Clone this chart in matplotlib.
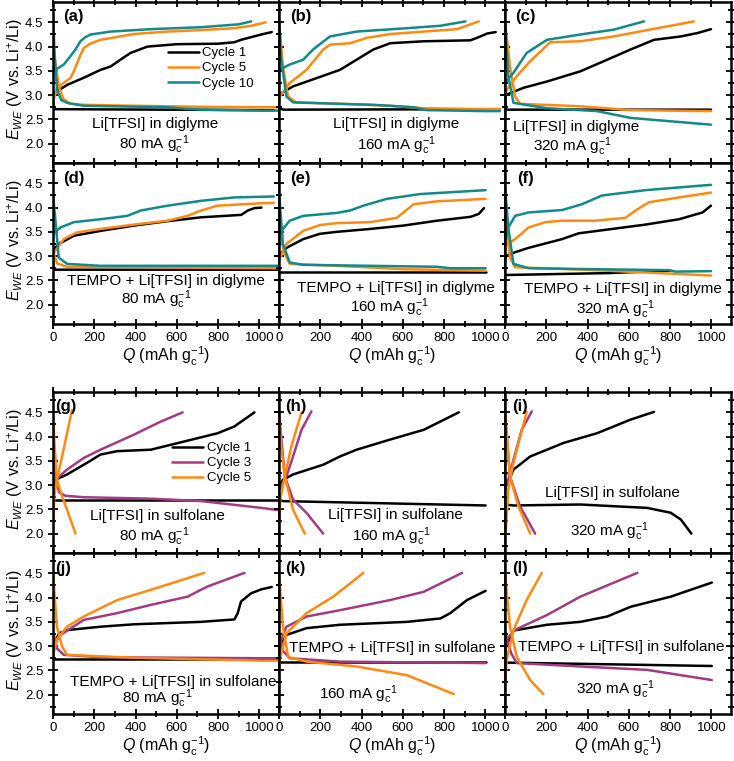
import matplotlib
matplotlib.use("Agg")
import matplotlib.pyplot as plt
from matplotlib.ticker import MultipleLocator

plt.rcParams['font.family'] = ['Liberation Sans', 'DejaVu Sans']
plt.rcParams['mathtext.fontset'] = 'custom'
plt.rcParams['mathtext.rm'] = 'Liberation Sans'
plt.rcParams['mathtext.it'] = 'Liberation Sans:italic'
plt.rcParams['mathtext.bf'] = 'Liberation Sans:bold'

# ---- data: charge (cq, cv) and discharge (dq, dv) curves, Q in mAh/g, E in V ----
# diglyme panels (cycles 1, 5, 10)
panel_a = {
    "Cycle 1": dict(cq=[0, 5, 68, 150, 230, 279, 330, 376, 457, 600, 800, 879, 911, 1009, 1060],
                    cv=[2.95, 3.04, 3.21, 3.36, 3.52, 3.59, 3.74, 3.87, 4.00, 4.05, 4.06, 4.09, 4.14, 4.25, 4.30],
                    dq=[0, 3, 1070], dv=[2.95, 2.71, 2.69]),
    "Cycle 5": dict(cq=[0, 19, 84, 100, 117, 133, 149, 180, 230, 392, 555, 717, 879, 960, 1030],
                    cv=[2.85, 3.15, 3.35, 3.48, 3.66, 3.83, 3.97, 4.06, 4.14, 4.26, 4.31, 4.34, 4.38, 4.43, 4.50],
                    dq=[0, 15, 30, 50, 84, 150, 392, 700, 1009, 1090],
                    dv=[4.10, 3.55, 3.15, 2.92, 2.82, 2.80, 2.78, 2.76, 2.75, 2.75]),
    "Cycle 10": dict(cq=[0, 52, 84, 110, 133, 155, 182, 279, 474, 717, 900, 960],
                     cv=[3.49, 3.63, 3.80, 3.95, 4.11, 4.19, 4.25, 4.31, 4.36, 4.40, 4.46, 4.52],
                     dq=[0, 8, 20, 40, 68, 149, 555, 640, 717, 1009, 1090],
                     dv=[4.65, 3.80, 3.10, 2.90, 2.84, 2.78, 2.75, 2.72, 2.70, 2.68, 2.68]),
}
panel_b = {
    "Cycle 1": dict(cq=[0, 11, 68, 182, 295, 376, 457, 539, 701, 928, 976, 1009, 1050],
                    cv=[2.95, 3.04, 3.18, 3.35, 3.52, 3.73, 3.94, 4.07, 4.11, 4.13, 4.21, 4.27, 4.30],
                    dq=[0, 19, 1070], dv=[2.75, 2.70, 2.71]),
    "Cycle 5": dict(cq=[0, 3, 52, 133, 214, 247, 344, 425, 539, 701, 863, 968],
                    cv=[2.85, 2.97, 3.25, 3.52, 3.94, 4.04, 4.07, 4.18, 4.26, 4.31, 4.36, 4.52],
                    dq=[0, 19, 44, 84, 295, 539, 701, 1000, 1070],
                    dv=[4.52, 3.59, 2.97, 2.85, 2.82, 2.78, 2.73, 2.71, 2.71]),
    "Cycle 10": dict(cq=[0, 52, 117, 165, 247, 376, 620, 782, 903],
                     cv=[3.52, 3.63, 3.73, 3.94, 4.21, 4.31, 4.38, 4.43, 4.52],
                     dq=[0, 11, 36, 68, 457, 652, 717, 1000, 1070],
                     dv=[4.52, 3.73, 2.97, 2.85, 2.80, 2.75, 2.69, 2.67, 2.67]),
}
panel_c = {
    "Cycle 1": dict(cq=[0, 8, 89, 203, 365, 495, 608, 722, 852, 933, 998],
                    cv=[2.95, 3.01, 3.15, 3.28, 3.49, 3.73, 3.94, 4.14, 4.21, 4.28, 4.36],
                    dq=[0, 5, 998], dv=[3.0, 2.70, 2.70]),
    "Cycle 5": dict(cq=[0, 8, 57, 122, 219, 365, 527, 689, 916],
                    cv=[2.95, 3.11, 3.39, 3.70, 4.09, 4.11, 4.21, 4.34, 4.52],
                    dq=[0, 24, 49, 73, 365, 608, 998],
                    dv=[4.52, 3.59, 2.97, 2.82, 2.77, 2.69, 2.67]),
    "Cycle 10": dict(cq=[0, 41, 105, 203, 365, 527, 673],
                     cv=[3.25, 3.46, 3.87, 4.14, 4.25, 4.35, 4.52],
                     dq=[0, 16, 41, 203, 446, 608, 998],
                     dv=[4.52, 3.39, 2.84, 2.73, 2.67, 2.53, 2.39]),
}
panel_d = {
    "Cycle 1": dict(cq=[0, 28, 101, 230, 392, 555, 717, 912, 944, 976, 1010],
                    cv=[3.11, 3.25, 3.42, 3.52, 3.63, 3.72, 3.80, 3.85, 3.94, 3.99, 4.00],
                    dq=[0, 5, 1090], dv=[2.9, 2.72, 2.72]),
    "Cycle 5": dict(cq=[0, 52, 117, 230, 392, 555, 652, 717, 798, 1009, 1070],
                    cv=[3.04, 3.35, 3.49, 3.56, 3.65, 3.73, 3.83, 3.94, 4.04, 4.09, 4.10],
                    dq=[0, 20, 68, 1090], dv=[3.1, 2.85, 2.78, 2.75]),
    "Cycle 10": dict(cq=[0, 36, 101, 230, 360, 425, 555, 717, 879, 1070],
                     cv=[3.46, 3.59, 3.70, 3.76, 3.83, 3.94, 4.04, 4.14, 4.21, 4.23],
                     dq=[0, 28, 68, 230, 1090], dv=[4.28, 2.97, 2.84, 2.80, 2.80]),
}
panel_e = {
    "Cycle 1": dict(cq=[0, 36, 117, 198, 279, 441, 603, 766, 928, 968, 993],
                    cv=[3.01, 3.17, 3.35, 3.46, 3.50, 3.56, 3.63, 3.73, 3.81, 3.87, 3.99],
                    dq=[0, 1001], dv=[2.67, 2.67]),
    "Cycle 5": dict(cq=[0, 36, 117, 198, 279, 441, 571, 603, 652, 766, 1001],
                    cv=[2.91, 3.25, 3.52, 3.64, 3.68, 3.70, 3.79, 3.90, 4.07, 4.13, 4.18],
                    dq=[0, 28, 52, 279, 603, 1001], dv=[3.5, 3.04, 2.84, 2.80, 2.73, 2.70]),
    "Cycle 10": dict(cq=[0, 52, 117, 279, 344, 409, 522, 684, 1001],
                     cv=[3.46, 3.73, 3.83, 3.89, 3.94, 4.04, 4.18, 4.28, 4.36],
                     dq=[0, 19, 52, 117, 441, 766, 830, 1001],
                     dv=[4.31, 3.25, 2.87, 2.82, 2.80, 2.78, 2.75, 2.75]),
}
panel_f = {
    "Cycle 1": dict(cq=[0, 8, 49, 114, 276, 357, 519, 681, 843, 957, 998],
                    cv=[2.95, 3.01, 3.08, 3.17, 3.35, 3.47, 3.56, 3.65, 3.76, 3.90, 4.04],
                    dq=[0, 500, 800], dv=[2.61, 2.65, 2.70]),
    "Cycle 5": dict(cq=[0, 49, 114, 195, 276, 438, 584, 633, 697, 843, 998],
                    cv=[3.22, 3.35, 3.59, 3.70, 3.73, 3.73, 3.79, 3.94, 4.11, 4.21, 4.31],
                    dq=[0, 24, 49, 438, 998], dv=[3.94, 2.97, 2.77, 2.71, 2.60]),
    "Cycle 10": dict(cq=[0, 16, 49, 114, 276, 373, 470, 681, 998],
                     cv=[3.30, 3.59, 3.83, 3.90, 3.95, 4.07, 4.25, 4.36, 4.47],
                     dq=[0, 16, 41, 114, 438, 795, 827, 998],
                     dv=[4.42, 3.59, 2.84, 2.75, 2.73, 2.71, 2.68, 2.69]),
}
# sulfolane panels (cycles 1, 3, 5)
panel_g = {
    "Cycle 1": dict(cq=[0, 11, 68, 165, 230, 311, 474, 636, 798, 879, 976],
                    cv=[3.0, 3.11, 3.22, 3.46, 3.63, 3.70, 3.73, 3.90, 4.07, 4.21, 4.50],
                    dq=[0, 1100], dv=[2.69, 2.69]),
    "Cycle 3": dict(cq=[0, 11, 68, 149, 230, 392, 522, 628],
                    cv=[3.0, 3.11, 3.32, 3.56, 3.73, 4.04, 4.31, 4.50],
                    dq=[0, 15, 30, 60, 150, 475, 720, 1009, 1100],
                    dv=[3.6, 3.1, 2.85, 2.78, 2.75, 2.72, 2.67, 2.53, 2.48]),
    "Cycle 5": dict(cq=[0, 6, 19, 44, 68, 92], cv=[1.94, 2.77, 3.11, 3.59, 4.07, 4.55],
                    dq=[0, 8, 19, 44, 68, 109], dv=[4.5, 3.80, 3.11, 2.77, 2.49, 2.0]),
}
panel_h = {
    "Cycle 1": dict(cq=[0, 19, 68, 214, 295, 376, 539, 701, 871],
                    cv=[2.97, 3.11, 3.22, 3.42, 3.59, 3.73, 3.94, 4.14, 4.50],
                    dq=[0, 19, 457, 1001], dv=[2.70, 2.67, 2.63, 2.58]),
    "Cycle 3": dict(cq=[0, 36, 68, 109, 157], cv=[2.9, 3.18, 3.59, 4.14, 4.52],
                    dq=[0, 28, 68, 133, 214], dv=[4.5, 3.18, 2.70, 2.43, 2.0]),
    "Cycle 5": dict(cq=[0, 6, 28, 60, 109], cv=[2.01, 2.70, 3.18, 3.80, 4.50],
                    dq=[0, 11, 28, 68, 125], dv=[4.5, 3.80, 3.18, 2.49, 2.0]),
}
panel_i = {
    "Cycle 1": dict(cq=[0, 24, 41, 122, 284, 365, 446, 608, 722],
                    cv=[3.0, 3.15, 3.32, 3.59, 3.87, 3.97, 4.07, 4.35, 4.51],
                    dq=[0, 41, 365, 689, 803, 852, 903], dv=[2.60, 2.58, 2.60, 2.53, 2.43, 2.29, 2.0]),
    "Cycle 3": dict(cq=[0, 16, 41, 81, 130], cv=[2.9, 3.11, 3.52, 4.14, 4.52],
                    dq=[0, 24, 73, 146], dv=[4.5, 3.18, 2.56, 2.0]),
    "Cycle 5": dict(cq=[3, 16, 41, 105], cv=[2.0, 2.91, 3.46, 4.51],
                    dq=[0, 24, 65, 122], dv=[4.5, 3.18, 2.56, 2.0]),
}
panel_j = {
    "Cycle 1": dict(cq=[0, 3, 28, 68, 230, 392, 717, 879, 895, 911, 960, 1009, 1060],
                    cv=[2.75, 2.99, 3.26, 3.33, 3.40, 3.45, 3.50, 3.55, 3.68, 3.92, 4.09, 4.17, 4.22],
                    dq=[0, 1100], dv=[2.73, 2.73]),
    "Cycle 3": dict(cq=[0, 36, 149, 311, 474, 652, 749, 928],
                    cv=[2.99, 3.23, 3.54, 3.68, 3.85, 4.02, 4.23, 4.51],
                    dq=[0, 20, 52, 230, 1009, 1100], dv=[3.3, 2.95, 2.82, 2.77, 2.75, 2.75]),
    "Cycle 5": dict(cq=[0, 20, 68, 149, 311, 474, 733], cv=[2.80, 3.15, 3.40, 3.61, 3.95, 4.16, 4.51],
                    dq=[0, 19, 44, 68, 392, 1009, 1100], dv=[4.5, 3.40, 2.99, 2.82, 2.76, 2.70, 2.70]),
}
panel_k = {
    "Cycle 1": dict(cq=[0, 3, 36, 133, 295, 620, 782, 830, 911, 1001],
                    cv=[2.75, 2.99, 3.23, 3.37, 3.44, 3.50, 3.57, 3.68, 3.95, 4.14],
                    dq=[0, 1001], dv=[2.68, 2.68]),
    "Cycle 3": dict(cq=[0, 3, 36, 133, 295, 539, 701, 887],
                    cv=[2.75, 3.06, 3.40, 3.61, 3.74, 3.95, 4.12, 4.51],
                    dq=[0, 20, 52, 295, 1001], dv=[3.3, 2.90, 2.75, 2.68, 2.65]),
    "Cycle 5": dict(cq=[0, 3, 36, 133, 263, 409], cv=[2.03, 2.71, 3.26, 3.68, 4.02, 4.51],
                    dq=[0, 19, 44, 133, 376, 620, 847], dv=[4.5, 3.40, 2.78, 2.68, 2.58, 2.40, 2.01]),
}
panel_l = {
    "Cycle 1": dict(cq=[0, 5, 41, 203, 365, 495, 608, 803, 1002],
                    cv=[2.75, 2.99, 3.32, 3.44, 3.50, 3.61, 3.81, 4.02, 4.31],
                    dq=[0, 1002], dv=[2.66, 2.59]),
    "Cycle 3": dict(cq=[0, 8, 41, 203, 365, 641], cv=[2.8, 3.13, 3.32, 3.64, 4.02, 4.51],
                    dq=[0, 30, 57, 365, 689, 1002], dv=[3.3, 2.85, 2.65, 2.58, 2.51, 2.30]),
    "Cycle 5": dict(cq=[0, 8, 41, 105, 178], cv=[2.16, 2.71, 3.33, 3.95, 4.51],
                    dq=[0, 24, 57, 122, 186], dv=[4.5, 3.40, 2.78, 2.30, 2.01]),
}

letters = list("abcdefghijkl")
panels = [panel_a, panel_b, panel_c, panel_d, panel_e, panel_f,
          panel_g, panel_h, panel_i, panel_j, panel_k, panel_l]
line1 = ["Li[TFSI] in diglyme"] * 3 + ["TEMPO + Li[TFSI] in diglyme"] * 3 + \
        ["Li[TFSI] in sulfolane"] * 3 + ["TEMPO + Li[TFSI] in sulfolane"] * 3
rates = ["80", "160", "320"] * 4

colors = {"Cycle 1": "black", "Cycle 3": "#A23C82", "Cycle 5": "#FF8A12", "Cycle 10": "#12898A"}

# text positions (axes fraction): line1 x, y, line2 x, y
txt_pos = [(0.45, 0.24, 0.45, 0.115), (0.52, 0.24, 0.52, 0.11), (0.315, 0.225, 0.30, 0.10),
           (0.50, 0.27, 0.455, 0.15), (0.518, 0.225, 0.49, 0.10), (0.52, 0.22, 0.49, 0.09),
           (0.46, 0.23, 0.45, 0.10), (0.513, 0.235, 0.50, 0.10), (0.475, 0.37, 0.463, 0.13),
           (0.53, 0.20, 0.46, 0.095), (0.50, 0.41, 0.35, 0.12), (0.515, 0.415, 0.49, 0.15)]
lab_dx = [10, 11, 10, 10, 11, 12, 2, 6, 7, 2, 6, 7]

W, H = 734, 761
fig = plt.figure(figsize=(W / 100, H / 100), dpi=100)
col_x = [53, 279, 505]
row_y = [2, 163, 392, 553]
pw, ph = 226, 161

axes = []
for idx in range(12):
    r, c = divmod(idx, 3)
    x0, y0 = col_x[c], row_y[r]
    ax = fig.add_axes([x0 / W, 1 - (y0 + ph) / H, pw / W, ph / H])
    axes.append(ax)
    for name, cur in panels[idx].items():
        col = colors[name]
        ax.plot(cur["cq"], cur["cv"], color=col, lw=1.8, label=name, solid_capstyle='round')
        ax.plot(cur["dq"], cur["dv"], color=col, lw=1.8, solid_capstyle='round')
    ax.set_xlim(0, 1095)
    ax.set_ylim(1.6, 4.92)
    ax.xaxis.set_major_locator(MultipleLocator(200))
    ax.xaxis.set_minor_locator(MultipleLocator(100))
    ax.yaxis.set_major_locator(MultipleLocator(0.5))
    ax.yaxis.set_minor_locator(MultipleLocator(0.25))
    ax.yaxis.set_major_formatter(matplotlib.ticker.FormatStrFormatter('%.1f'))
    ax.tick_params(which='both', direction='inout', top=True, right=True, width=1.3, labelsize=9.5)
    ax.tick_params(which='major', length=7)
    ax.tick_params(which='minor', length=4)
    ax.tick_params(axis='x', pad=2)
    for s in ax.spines.values():
        s.set_linewidth(1.8)
    if c > 0:
        ax.tick_params(labelleft=False)
    else:
        ax.set_ylabel(r'$E_{WE}$ (V vs. Li$^{+}$/Li)', fontsize=11.5)
        ax.yaxis.set_label_coords(-0.122, 0.52)
    if r in (0, 2):
        ax.tick_params(labelbottom=False)
    else:
        ax.set_xlabel(r'$Q$ (mAh g$_\mathrm{c}^{-1}$)', fontsize=11.5, labelpad=1)
    ax.text(lab_dx[idx] / pw, 1 - 15 / ph, "(%s)" % letters[idx], transform=ax.transAxes,
            fontsize=12, fontweight='bold', ha='left', va='center')
    tx1, ty1, tx2, ty2 = txt_pos[idx]
    ax.text(tx1, ty1, line1[idx], transform=ax.transAxes, fontsize=11, ha='center', va='center')
    ax.text(tx2, ty2, rates[idx] + r' mA g$_\mathrm{c}^{-1}$', transform=ax.transAxes,
            fontsize=11, ha='center', va='center')

axes[0].legend(loc='upper left', bbox_to_anchor=(0.51, 0.72), frameon=False, fontsize=9.5,
               handlelength=2.3, handletextpad=0.25, labelspacing=0.22, borderpad=0, borderaxespad=0)
axes[6].legend(loc='upper left', bbox_to_anchor=(0.525, 0.69), frameon=False, fontsize=9.5,
               handlelength=2.4, handletextpad=0.25, labelspacing=0.22, borderpad=0, borderaxespad=0)

fig.savefig("out.png", dpi=100)
